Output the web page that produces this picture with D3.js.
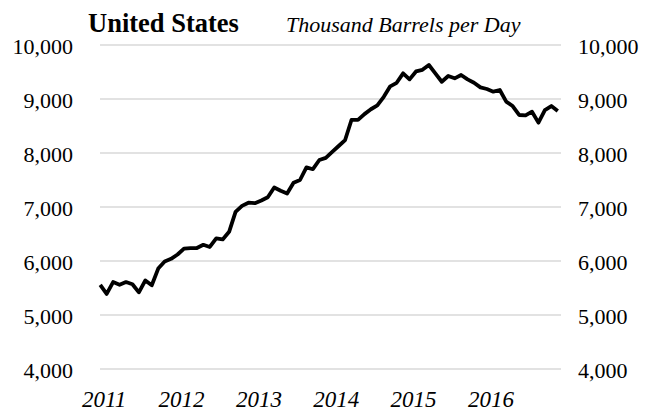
<!DOCTYPE html>
<html>
<head>
<meta charset="utf-8">
<script src="https://cdn.jsdelivr.net/npm/d3@7/dist/d3.min.js"></script>
<style>
  body { margin: 0; background: #fff; }
  text { font-family: "Liberation Serif", "DejaVu Serif", serif; fill: #000; }
</style>
</head>
<body>
<svg width="651" height="415"></svg>
<script>
// monthly crude oil production, Jan 2011 - Dec 2016
var years = [2011, 2012, 2013, 2014, 2015, 2016];
var yTicks = [4000, 5000, 6000, 7000, 8000, 9000, 10000];
var production = [
  5556, 5390, 5610, 5560, 5610, 5570, 5420, 5640, 5550, 5860, 5990, 6040,
  6120, 6230, 6240, 6240, 6300, 6260, 6420, 6400, 6540, 6910, 7020, 7080,
  7070, 7120, 7180, 7360, 7300, 7250, 7450, 7500, 7735, 7700, 7870, 7910,
  8020, 8130, 8240, 8615, 8612, 8720, 8810, 8880, 9040, 9235, 9300, 9475,
  9364, 9510, 9540, 9630, 9475, 9320, 9426, 9383, 9444, 9364, 9302, 9216,
  9185, 9136, 9167, 8951, 8870, 8704, 8698, 8765, 8562, 8796, 8870, 8778
];

var months = [];
years.forEach(function(y) { d3.range(12).forEach(function(m) { months.push(y + "-" + (m + 1)); }); });

var svg = d3.select("svg");

var x = d3.scalePoint()
    .domain(months)
    .range([97, 561])
    .padding(0.5);

var y = d3.scaleLinear()
    .domain([4000, 10000])
    .range([369, 45]);

var fmt = d3.format(",");

// gridlines
svg.append("g")
  .selectAll("line")
  .data(yTicks)
  .enter().append("line")
    .attr("x1", 100)
    .attr("x2", 561)
    .attr("y1", function(d) { return y(d); })
    .attr("y2", function(d) { return y(d); })
    .attr("stroke", "#d9d9d9")
    .attr("stroke-width", 1.5);

// left and right value labels
svg.append("g")
  .selectAll("text")
  .data(yTicks)
  .enter().append("text")
    .attr("x", 73)
    .attr("y", function(d) { return y(d) + 9; })
    .attr("text-anchor", "end")
    .style("font-size", "22px")
    .text(fmt);

svg.append("g")
  .selectAll("text")
  .data(yTicks)
  .enter().append("text")
    .attr("x", 578)
    .attr("y", function(d) { return y(d) + 9; })
    .style("font-size", "22px")
    .text(fmt);

// year labels under january
svg.append("g")
  .selectAll("text")
  .data(years)
  .enter().append("text")
    .attr("x", function(d) { return x(d + "-1") + 4; })
    .attr("y", 407)
    .attr("text-anchor", "middle")
    .style("font-size", "23px")
    .style("font-style", "italic")
    .text(function(d) { return d; });

var line = d3.line()
    .x(function(d, i) { return x(months[i]); })
    .y(function(d) { return y(d); });

svg.append("path")
    .datum(production)
    .attr("d", line)
    .attr("fill", "none")
    .attr("stroke", "#000")
    .attr("stroke-width", 3.8)
    .attr("stroke-linejoin", "round");

svg.append("text")
    .attr("x", 88)
    .attr("y", 32)
    .style("font-size", "26.5px")
    .style("font-weight", "bold")
    .text("United States");

svg.append("text")
    .attr("x", 286)
    .attr("y", 32)
    .style("font-size", "22px")
    .style("font-style", "italic")
    .text("Thousand Barrels per Day");
</script>
</body>
</html>
